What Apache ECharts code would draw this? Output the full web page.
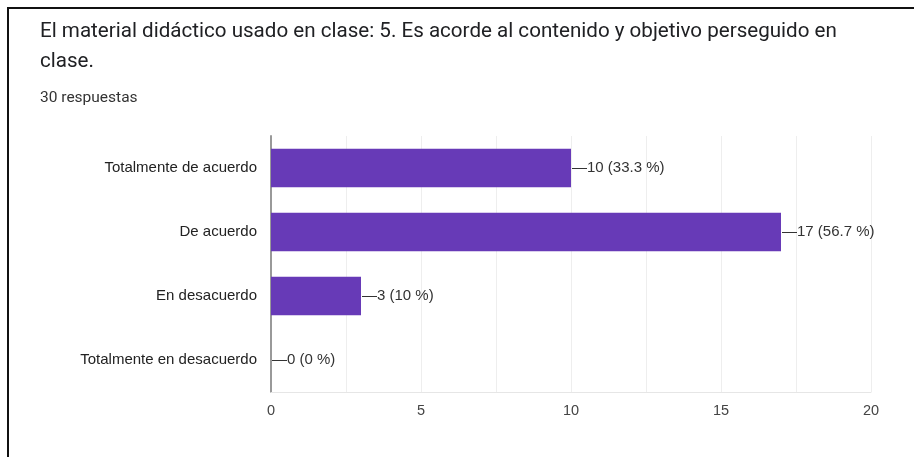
<!DOCTYPE html>
<html><head><meta charset="utf-8">
<script src="https://cdn.jsdelivr.net/npm/echarts@6/dist/echarts.min.js"></script>
<style>html,body{margin:0;padding:0;background:#fff}#c{width:914px;height:457px}</style>
</head><body><div id="c"></div>
<script>
const categories = ['Totalmente de acuerdo', 'De acuerdo', 'En desacuerdo', 'Totalmente en desacuerdo'];
const counts = [10, 17, 3, 0];
const percents = ['33.3', '56.7', '10', '0'];
const titleLine1 = 'El material didáctico usado en clase: 5. Es acorde al contenido y objetivo perseguido en';
const titleLine2 = 'clase.';
const subtitle = '30 respuestas';

const chart = echarts.init(document.getElementById('c'), null, {renderer: 'canvas'});
chart.setOption({
  backgroundColor: '#fff',
  animation: false,
  graphic: [
    {type: 'polyline', shape: {points: [[8, 457], [8, 8], [914, 8]]}, style: {stroke: '#111', lineWidth: 2, fill: null}},
    {type: 'text', left: 40, top: 21, style: {text: titleLine1, font: '20.6px Roboto', fill: '#202124'}},
    {type: 'text', left: 40, top: 51, style: {text: titleLine2, font: '20.6px Roboto', fill: '#202124'}},
    {type: 'text', left: 40, top: 90, style: {text: subtitle, font: '15.5px Roboto', fill: '#333'}}
  ],
  grid: {left: 271, right: 43, top: 136, bottom: 65, containLabel: false},
  xAxis: {
    type: 'value', min: 0, max: 20, interval: 2.5,
    axisLine: {show: true, lineStyle: {color: '#e6e6e6', width: 1}}, axisTick: {show: false},
    splitLine: {lineStyle: {color: '#eeeeee', width: 1}},
    axisLabel: {
      color: '#444', fontFamily: 'Liberation Sans, Arial', fontSize: 14.5, margin: 11,
      formatter: v => (v % 5 === 0 ? String(v) : '')
    }
  },
  yAxis: {
    type: 'category', data: categories, inverse: true,
    axisLine: {lineStyle: {color: '#999', width: 2}},
    axisTick: {show: false},
    axisLabel: {color: '#222', fontFamily: 'Liberation Sans, Arial', fontSize: 15, margin: 14}
  },
  series: [{
    type: 'bar', data: counts, barWidth: '60%',
    itemStyle: {color: '#673ab7'},
    label: {
      show: true, position: 'right', distance: 1,
      color: '#333', fontFamily: 'Liberation Sans, Arial', fontSize: 15,
      formatter: p => '\u2014' + counts[p.dataIndex] + ' (' + percents[p.dataIndex] + ' %)'
    }
  }]
});
</script></body></html>
